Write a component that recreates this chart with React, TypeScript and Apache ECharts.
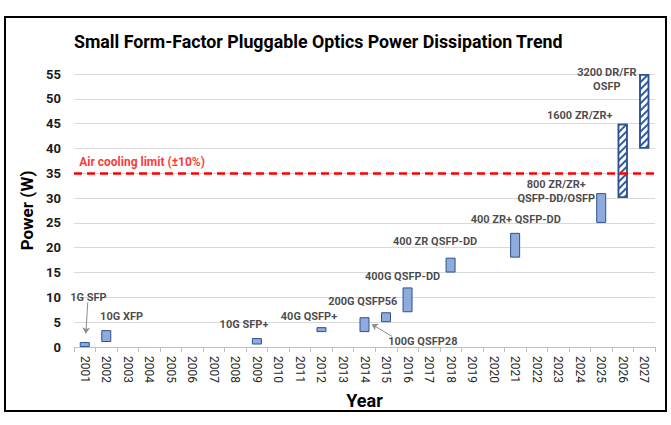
import React, { useEffect, useRef } from "react";
import * as echarts from "echarts";

const years = [
  "2001", "2002", "2003", "2004", "2005", "2006", "2007", "2008", "2009",
  "2010", "2011", "2012", "2013", "2014", "2015", "2016", "2017", "2018",
  "2019", "2020", "2021", "2022", "2023", "2024", "2025", "2026", "2027",
];

// Power ranges per module generation (W)
const barYears = ["2001", "2002", "2009", "2012", "2014", "2015", "2016", "2018", "2021", "2025", "2026", "2027"];
const barLow = [0, 1, 0.5, 3, 3, 5, 7, 15, 18, 25, 30, 40];
const barHigh = [1, 3.4, 1.8, 4, 6, 7, 12, 18, 23, 31, 45, 55];
const projectedYears = ["2026", "2027"];

const airCoolingLimit = 35;

// Annotation labels: [x (year position), y (W), text]
const labelX = [2001.17, 2002.71, 2008.4, 2011.42, 2013.92, 2016.71, 2015.77, 2017.28, 2021.03, 2022.91, 2024.0, 2025.26];
const labelY = [9.9, 6.2, 4.6, 6.05, 9.07, 1.2, 14.25, 21.2, 25.7, 31.4, 46.7, 53.8];
const labelText = [
  "1G SFP", "10G XFP", "10G SFP+", "40G QSFP+", "200G QSFP56", "100G QSFP28",
  "400G QSFP-DD", "400 ZR QSFP-DD", "400 ZR+ QSFP-DD", "800 ZR/ZR+\nQSFP-DD/OSFP",
  "1600 ZR/ZR+", "3200 DR/FR\nOSFP",
];

// Arrows: from -> to
const arrowFrom = [[2001.14, 9.0], [2015.27, 2.16]];
const arrowTo = [[2001.05, 2.7], [2014.34, 4.58]];

export default function App() {
  const ref = useRef<HTMLDivElement>(null);

  useEffect(() => {
    document.body.style.margin = "0";
    const chart = echarts.init(ref.current!, null, { renderer: "svg" });

    const baseData = years.map((y) => {
      const i = barYears.indexOf(y);
      return i < 0 ? "-" : barLow[i];
    });
    const rangeData = years.map((y) => {
      const i = barYears.indexOf(y);
      if (i < 0) return "-";
      const v = +(barHigh[i] - barLow[i]).toFixed(2);
      if (projectedYears.includes(y)) {
        return {
          value: v,
          itemStyle: {
            color: "#ffffff",
            borderColor: "#2F528F",
            borderWidth: 1.5,
            decal: {
              symbol: "rect",
              symbolSize: 1,
              color: "#2E5AA8",
              backgroundColor: "#ffffff",
              dashArrayX: [1, 0],
              dashArrayY: [2, 2.5],
              rotation: -Math.PI / 4,
            },
          },
        };
      }
      return v;
    });

    const font = "Roboto, 'DejaVu Sans', sans-serif";

    chart.setOption({
      animation: false,
      title: {
        text: "Small Form-Factor Pluggable Optics Power Dissipation Trend",
        left: 69,
        top: 27,
        textStyle: { fontFamily: font, fontWeight: "bold", fontSize: 17.8, color: "#000" },
      },
      grid: { left: 74, right: 16, top: 74, bottom: 78, containLabel: false },
      xAxis: [
        {
          type: "category",
          data: years,
          boundaryGap: true,
          name: "Year",
          nameLocation: "middle",
          nameGap: 44,
          nameTextStyle: { fontFamily: font, fontWeight: "bold", fontSize: 18, color: "#000" },
          axisLine: { lineStyle: { color: "#BFBFBF" } },
          axisTick: { show: true, alignWithLabel: false, length: 5, lineStyle: { color: "#BFBFBF" } },
          axisLabel: { rotate: -90, interval: 0, margin: 9, fontFamily: font, fontSize: 12, color: "#262626" },
        },
        { type: "value", min: 2000.5, max: 2027.5, show: false },
      ],
      yAxis: {
        type: "value",
        min: 0,
        max: 55,
        interval: 5,
        name: "Power (W)",
        nameLocation: "middle",
        nameGap: 38,
        nameTextStyle: { fontFamily: font, fontWeight: "bold", fontSize: 17, color: "#000" },
        axisLine: { show: false },
        axisTick: { show: false },
        axisLabel: { margin: 13, fontFamily: font, fontWeight: "bold", fontSize: 13, color: "#1a1a1a" },
        splitLine: { lineStyle: { color: "#D9D9D9" } },
      },
      series: [
        {
          type: "bar",
          stack: "power",
          data: baseData,
          barWidth: 10,
          itemStyle: { color: "transparent" },
          silent: true,
        },
        {
          type: "bar",
          stack: "power",
          data: rangeData,
          barWidth: 10,
          itemStyle: { color: "#8FAADC", borderColor: "#2F528F", borderWidth: 1 },
          markLine: {
            silent: true,
            symbol: ["none", "none"],
            label: { show: false },
            lineStyle: { color: "#FF0000", type: [8, 5], width: 2.5 },
            data: [{ yAxis: airCoolingLimit }],
          },
        },
        {
          type: "lines",
          coordinateSystem: "cartesian2d",
          xAxisIndex: 1,
          yAxisIndex: 0,
          symbol: ["none", "arrow"],
          symbolSize: 6,
          lineStyle: { color: "#8C8C8C", width: 1, opacity: 1 },
          data: arrowFrom.map((f, i) => ({ coords: [f, arrowTo[i]] })),
          silent: true,
        },
        {
          type: "scatter",
          xAxisIndex: 1,
          yAxisIndex: 0,
          symbolSize: 0,
          silent: true,
          data: labelText.map((t, i) => ({ name: t, value: [labelX[i], labelY[i]] })),
          label: {
            show: true,
            position: "inside",
            formatter: (p: any) => p.name,
            fontFamily: font,
            fontWeight: "bold",
            fontSize: 11,
            lineHeight: 14,
            color: "#1a1a1a",
            align: "center",
          },
        },
        {
          type: "scatter",
          xAxisIndex: 1,
          yAxisIndex: 0,
          symbolSize: 0,
          silent: true,
          data: [{ name: "Air cooling limit (±10%)", value: [2000.74, 37.3] }],
          label: {
            show: true,
            position: "right",
            distance: 0,
            formatter: (p: any) => p.name,
            fontFamily: font,
            fontWeight: "bold",
            fontSize: 12,
            color: "#FF0000",
          },
        },
      ],
      graphic: [
        {
          type: "rect",
          shape: { x: 5, y: 17, width: 661, height: 394 },
          style: { fill: "none", stroke: "#000", lineWidth: 2 },
          silent: true,
        },
      ],
    });

    return () => chart.dispose();
  }, []);

  return <div ref={ref} style={{ width: 671, height: 425 }} />;
}
